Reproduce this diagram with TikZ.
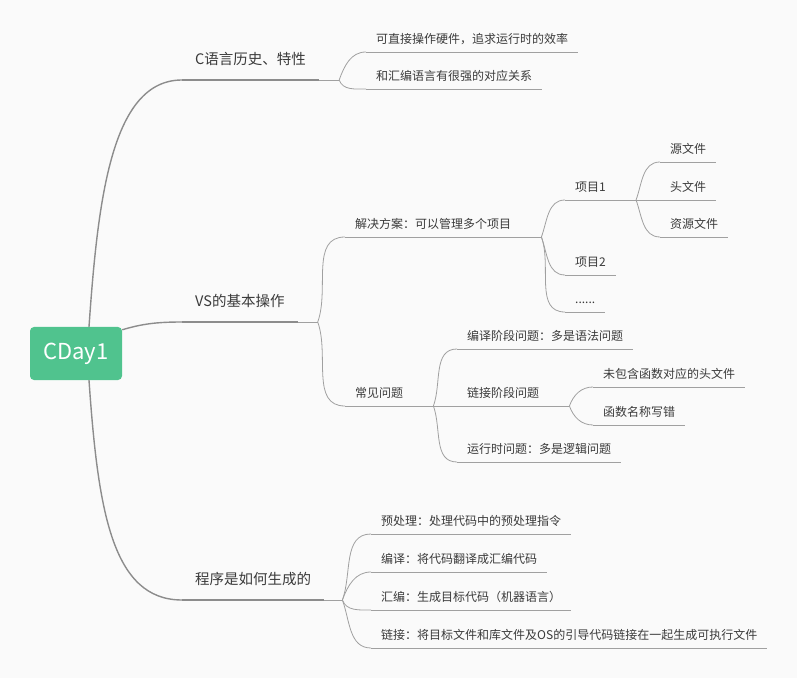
\documentclass[tikz,border=0pt]{standalone}
\usepackage{fontspec}
\setmainfont{Noto Sans CJK SC}
\definecolor{bgcolor}{HTML}{FAFAFA}
\definecolor{rootcolor}{HTML}{50C38E}
\definecolor{trunkcolor}{HTML}{8C8C8C}
\definecolor{twigcolor}{HTML}{A0A0A0}
\definecolor{labelcolor}{HTML}{3A3A3A}

\begin{document}
\begin{tikzpicture}[
    x=1pt, y=1pt,
    rootbox/.style={
        rectangle, rounded corners=4pt, minimum width=92pt, minimum height=53pt,
        fill=rootcolor, text=white, font=\fontsize{22}{26}\selectfont
    },
    trunk/.style={line width=1.4pt, draw=trunkcolor},
    twig/.style={line width=0.8pt, draw=twigcolor},
    topic/.style={
        anchor=south west, inner xsep=13pt, inner ysep=12pt,
        text height=11pt, text depth=3pt, text=labelcolor,
        font=\fontsize{14.5}{17}\selectfont,
        append after command={(\tikzlastnode.south west) edge[trunk] (\tikzlastnode.south east)}
    },
    leaf/.style={
        anchor=south west, inner xsep=10pt, inner ysep=6pt,
        text height=9.5pt, text depth=2.5pt, text=labelcolor,
        font=\fontsize{12}{14}\selectfont,
        append after command={(\tikzlastnode.south west) edge[twig] (\tikzlastnode.south east)}
    },
    forkup/.style={out=70, in=180},
    forkdown/.style={out=-70, in=180}
]

% Canvas
\fill[bgcolor] (0,0) rectangle (797,678);
\useasboundingbox (0,0) rectangle (797,678);

% Root
\node[rootbox] (root) at (76, 324.5) {CDay1};

% First level
\node[topic] (lang) at (182, 598) {C语言历史、特性};
\node[topic] (vs) at (182, 356) {VS的基本操作};
\node[topic] (prog) at (182, 78) {程序是如何生成的};

\draw[trunk] ([xshift=13pt]root.north) .. controls +(9,130) and +(-70,0) .. (lang.south west);
\draw[trunk] ([yshift=-3pt]root.north east) .. controls +(20,6) and +(-25,0) .. (vs.south west);
\draw[trunk] ([xshift=13pt]root.south) .. controls +(9,-130) and +(-70,0) .. (prog.south west);

% C language
\coordinate (langB) at ([xshift=20pt]lang.south east);
\node[leaf] (hw) at (366, 626) {可直接操作硬件，追求运行时的效率};
\node[leaf] (asm) at (366, 589) {和汇编语言有很强的对应关系};
\draw[twig] (lang.south east) -- (langB);
\draw[twig] (langB) to[forkup] (hw.south west);
\draw[twig] (langB) to[forkdown] (asm.south west);

% VS basics
\coordinate (vsB) at ([xshift=20pt]vs.south east);
\node[leaf] (sol) at (345, 441) {解决方案：可以管理多个项目};
\node[leaf] (faq) at (345, 272) {常见问题};
\draw[twig] (vs.south east) -- (vsB);
\draw[twig] (vsB) to[forkup] (sol.south west);
\draw[twig] (vsB) to[forkdown] (faq.south west);

% Solution: projects
\coordinate (solB) at ([xshift=20pt]sol.south east);
\node[leaf] (p1) at (565, 478) {项目1};
\node[leaf] (p2) at (565, 403) {项目2};
\node[leaf] (pdots) at (565, 366) {......};
\draw[twig] (sol.south east) -- (solB);
\draw[twig] (solB) to[forkup] (p1.south west);
\draw[twig] (solB) to[forkdown] (p2.south west);
\draw[twig] (solB) to[forkdown] (pdots.south west);

% Project 1 files
\coordinate (p1B) at ([xshift=20pt]p1.south east);
\node[leaf] (src) at (660, 516) {源文件};
\node[leaf] (hdr) at (660, 478) {头文件};
\node[leaf] (res) at (660, 441) {资源文件};
\draw[twig] (p1.south east) -- (p1B);
\draw[twig] (p1B) to[forkup] (src.south west);
\draw[twig] (p1B) -- (hdr.south west);
\draw[twig] (p1B) to[forkdown] (res.south west);

% Common problems
\coordinate (faqB) at ([xshift=20pt]faq.south east);
\node[leaf] (cerr) at (457, 329) {编译阶段问题：多是语法问题};
\node[leaf] (lerr) at (457, 272) {链接阶段问题};
\node[leaf] (rerr) at (457, 216) {运行时问题：多是逻辑问题};
\draw[twig] (faq.south east) -- (faqB);
\draw[twig] (faqB) to[forkup] (cerr.south west);
\draw[twig] (faqB) -- (lerr.south west);
\draw[twig] (faqB) to[forkdown] (rerr.south west);

% Link errors
\coordinate (lerrB) at ([xshift=20pt]lerr.south east);
\node[leaf] (nohdr) at (593, 291) {未包含函数对应的头文件};
\node[leaf] (badname) at (593, 253) {函数名称写错};
\draw[twig] (lerr.south east) -- (lerrB);
\draw[twig] (lerrB) to[forkup] (nohdr.south west);
\draw[twig] (lerrB) to[forkdown] (badname.south west);

% Build steps
\coordinate (progB) at ([xshift=18pt]prog.south east);
\node[leaf] (pre) at (371, 144) {预处理：处理代码中的预处理指令};
\node[leaf] (comp) at (371, 106) {编译：将代码翻译成汇编代码};
\node[leaf] (asmb) at (371, 68) {汇编：生成目标代码（机器语言）};
\node[leaf] (link) at (371, 30) {链接：将目标文件和库文件及OS的引导代码链接在一起生成可执行文件};
\draw[twig] (prog.south east) -- (progB);
\draw[twig] (progB) to[forkup] (pre.south west);
\draw[twig] (progB) to[forkup] (comp.south west);
\draw[twig] (progB) to[forkdown] (asmb.south west);
\draw[twig] (progB) to[forkdown] (link.south west);

\end{tikzpicture}
\end{document}
